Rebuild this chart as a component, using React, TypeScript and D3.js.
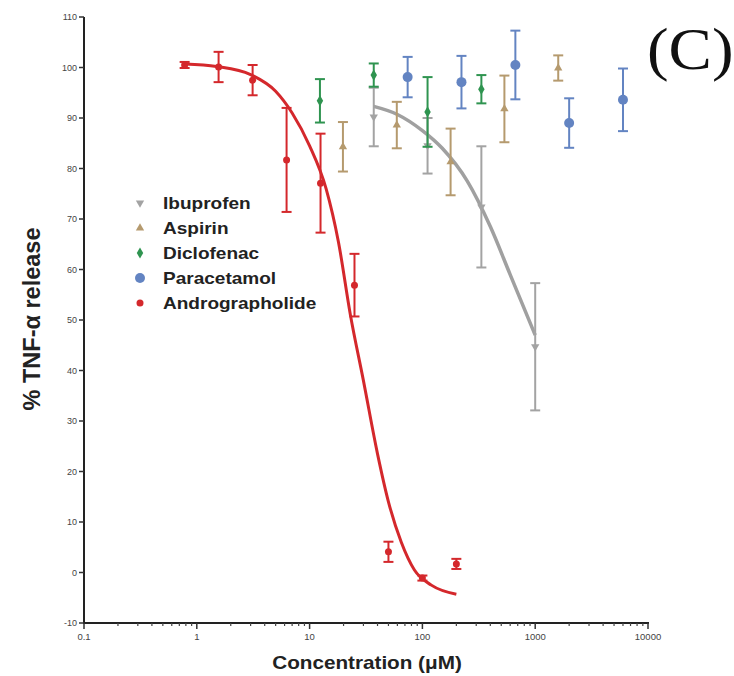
import * as d3 from 'd3';

const W = 734;
const H = 676;

// y ticks / x ticks
const yTicks = [-10, 0, 10, 20, 30, 40, 50, 60, 70, 80, 90, 100, 110];
const xTicks = [0.1, 1, 10, 100, 1000, 10000];
const xTickLabels = ['0.1', '1', '10', '100', '1000', '10000'];

// Andrographolide
const andConc = [0.78, 1.56, 3.125, 6.25, 12.5, 25, 50, 100, 200];
const andMean = [100.5, 100.1, 97.5, 81.7, 77.1, 56.9, 4.1, -1.1, 1.7];
const andSd = [0.6, 3, 3, 10.3, 9.8, 6.2, 2, 0.5, 1];
const andFitX = [0.78, 1.5, 3, 5, 7, 10, 14, 18, 23, 30, 40, 50, 65, 85, 120, 200];
const andFitY = [100.7, 100.2, 98.6, 95.3, 91, 84.5, 76, 65.5, 51, 38, 23.5, 14, 6, 0.5, -2.5, -4.3];

// Ibuprofen
const ibuConc = [37.04, 111.1, 333.3, 1000];
const ibuMean = [90.2, 84.5, 72.4, 44.7];
const ibuSd = [5.8, 5.5, 12, 12.6];
const ibuFitX = [37.04, 60, 100, 150, 250, 400, 600, 1000];
const ibuFitY = [92.3, 90.7, 87.5, 84, 77.5, 68.5, 59, 47];

// Aspirin
const aspConc = [19.75, 59.3, 177.8, 533.3, 1600];
const aspMean = [84.3, 88.6, 81.3, 91.8, 99.9];
const aspSd = [4.9, 4.6, 6.6, 6.6, 2.5];

// Diclofenac
const dicConc = [12.35, 37.04, 111.1, 333.3];
const dicMean = [93.4, 98.5, 91.2, 95.7];
const dicSd = [4.3, 2.3, 6.9, 2.8];

// Paracetamol
const parConc = [74, 222, 667, 2000, 6000];
const parMean = [98.1, 97.1, 100.5, 89.0, 93.6];
const parSd = [4, 5.2, 6.8, 4.9, 6.2];

const legendNames = ['Ibuprofen', 'Aspirin', 'Diclofenac', 'Paracetamol', 'Andrographolide'];
const colors = {
  ibu: '#a3a3a3',
  asp: '#b59a6e',
  dic: '#2f9450',
  par: '#6384c2',
  and: '#d4282c',
};

const x = d3.scaleLog().domain([0.1, 10000]).range([84, 648]);
const y = d3.scaleLinear().domain([-10, 110]).range([623, 17]);

function pathFor(xs: number[], ys: number[]) {
  const pts: [number, number][] = xs.map((v, i) => [x(v), y(ys[i])]);
  return d3.line().curve(d3.curveMonotoneX)(pts) || '';
}

const sym = (type: d3.SymbolType, size: number) => d3.symbol().type(type).size(size)() || '';

function ErrorSeries({ xs, ms, sds, color, marker, cap = 5, sw = 2 }: any) {
  return (
    <g>
      {xs.map((c: number, i: number) => {
        const cx = x(c);
        const top = y(ms[i] + sds[i]);
        const bot = y(ms[i] - sds[i]);
        return (
          <g key={i} stroke={color} strokeWidth={sw} fill="none">
            <line x1={cx} x2={cx} y1={top} y2={bot} />
            <line x1={cx - cap} x2={cx + cap} y1={top} y2={top} />
            <line x1={cx - cap} x2={cx + cap} y1={bot} y2={bot} />
            <g transform={`translate(${cx},${y(ms[i])})`} stroke="none" fill={color}>
              {marker}
            </g>
          </g>
        );
      })}
    </g>
  );
}

export default function App() {
  const minor: number[] = [];
  for (let e = -1; e < 4; e++) {
    for (let k = 2; k <= 9; k++) minor.push(k * Math.pow(10, e));
  }
  const markers = {
    ibu: <path d={sym(d3.symbolTriangle, 30)} transform="rotate(180)" />,
    asp: <path d={sym(d3.symbolTriangle, 30)} />,
    dic: <path d={sym(d3.symbolDiamond, 36)} />,
    par: <circle r={5} />,
    and: <circle r={3.5} />,
  };
  const legendKeys = ['ibu', 'asp', 'dic', 'par', 'and'] as const;
  return (
    <svg
      width={W}
      height={H}
      style={{ position: 'absolute', left: 0, top: 0, background: '#fff' }}
      fontFamily="Liberation Sans, Arial, sans-serif"
    >
      {/* axes */}
      <g stroke="#222" strokeWidth={2} fill="none">
        <line x1={84} x2={84} y1={y(110)} y2={y(-10) + 1} />
        <line x1={83} x2={649} y1={y(-10)} y2={y(-10)} />
      </g>
      {yTicks.map((t) => (
        <g key={t}>
          <line x1={79} x2={84} y1={y(t)} y2={y(t)} stroke="#333" strokeWidth={1.5} />
          <text x={77} y={y(t) + 3} fontSize={9} textAnchor="end" fill="#444">
            {t}
          </text>
        </g>
      ))}
      {xTicks.map((t, i) => (
        <g key={t}>
          <line x1={x(t)} x2={x(t)} y1={y(-10)} y2={y(-10) + 6} stroke="#333" strokeWidth={1.5} />
          <text x={x(t)} y={y(-10) + 17} fontSize={9.5} textAnchor="middle" fill="#444">
            {xTickLabels[i]}
          </text>
        </g>
      ))}
      {minor.map((t) => (
        <line key={t} x1={x(t)} x2={x(t)} y1={y(-10)} y2={y(-10) + 3} stroke="#444" strokeWidth={1.2} />
      ))}
      <text
        transform="translate(367,669) scale(1.15,1)"
        fontSize={18}
        fontWeight="bold"
        textAnchor="middle"
        fill="#222"
      >
        Concentration (μM)
      </text>
      <text
        transform="translate(40,319) rotate(-90)"
        fontSize={23.5}
        fontWeight="bold"
        textAnchor="middle"
        fill="#222"
      >
        % TNF-α release
      </text>

      {/* series */}
      <path d={pathFor(ibuFitX, ibuFitY)} stroke="#a0a0a0" strokeWidth={3.5} fill="none" />
      <ErrorSeries xs={ibuConc} ms={ibuMean} sds={ibuSd} color={colors.ibu} marker={markers.ibu} />
      <ErrorSeries xs={aspConc} ms={aspMean} sds={aspSd} color={colors.asp} marker={markers.asp} />
      <ErrorSeries xs={dicConc} ms={dicMean} sds={dicSd} color={colors.dic} marker={markers.dic} />
      <ErrorSeries xs={parConc} ms={parMean} sds={parSd} color={colors.par} marker={markers.par} />
      <ErrorSeries xs={andConc} ms={andMean} sds={andSd} color={colors.and} marker={markers.and} />
      <path d={pathFor(andFitX, andFitY)} stroke={colors.and} strokeWidth={3} fill="none" />

      {/* legend */}
      {legendKeys.map((k, i) => (
        <g key={k} transform={`translate(140,${203 + i * 25})`}>
          <g fill={colors[k]}>{markers[k]}</g>
          <text transform="translate(23,6) scale(1.12,1)" fontSize={17} fontWeight="bold" fill="#222">
            {legendNames[i]}
          </text>
        </g>
      ))}

      <text
        transform="translate(647,69) scale(1.1,1)"
        fontSize={59}
        fontFamily="Liberation Serif, Times New Roman, serif"
        fill="#111"
      >
        (C)
      </text>
    </svg>
  );
}
